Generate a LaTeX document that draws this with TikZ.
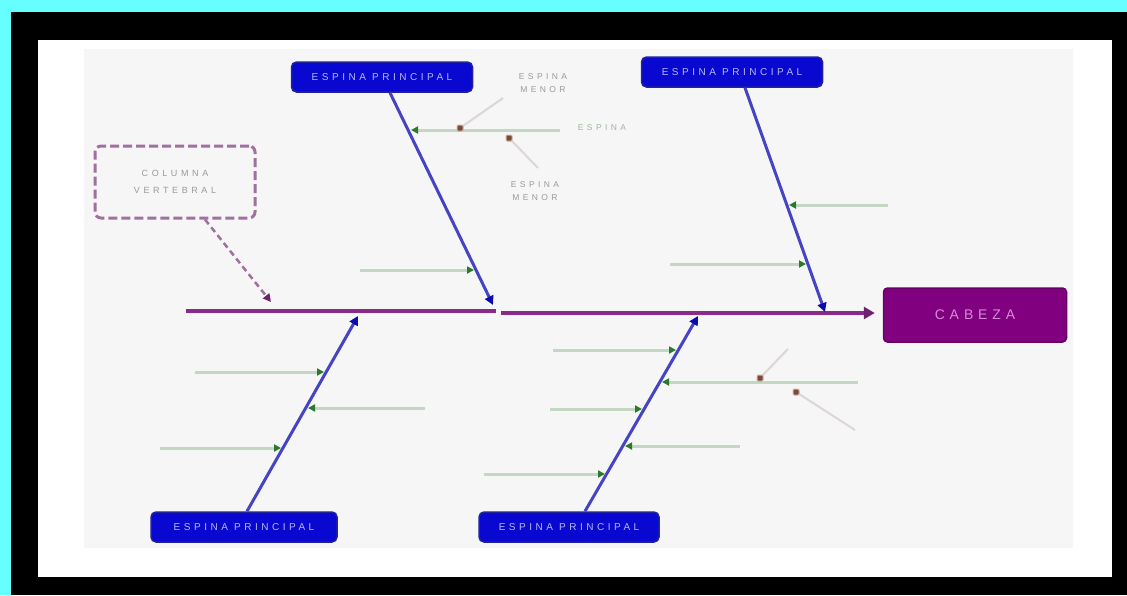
\documentclass[tikz,border=0pt]{standalone}
\usepackage{fontspec}
\setmainfont{Liberation Sans}
\newfontfamily\spaced[LetterSpace=35]{Liberation Sans}
\newfontfamily\spacedw[LetterSpace=40]{Liberation Sans}
\usetikzlibrary{arrows.meta}
\definecolor{cyanbg}{HTML}{66FFFF}
\definecolor{innerbg}{HTML}{F6F6F6}
\definecolor{boxblue}{HTML}{0808D0}
\definecolor{boxedge}{HTML}{22229A}
\definecolor{boxtext}{HTML}{B8B8F8}
\definecolor{bonecol}{HTML}{4444C4}
\definecolor{bonetip}{HTML}{0A0AB0}
\definecolor{spinecol}{HTML}{8A2A8A}
\definecolor{headcol}{HTML}{800080}
\definecolor{headtext}{HTML}{D88AD8}
\definecolor{minorcol}{HTML}{C4D6C4}
\definecolor{minortip}{HTML}{2A7A2A}
\definecolor{dotcol}{HTML}{7A4A32}
\definecolor{twigcol}{HTML}{DCD6D4}
\definecolor{labgray}{HTML}{9E9896}
\definecolor{labgreen}{HTML}{A0B4A0}
\definecolor{colborder}{HTML}{A070A0}
\tikzset{
  majorbox/.style={draw=boxedge, line width=1.5pt, fill=boxblue, rounded corners=5pt,
    minimum width=181pt, minimum height=30pt, inner sep=0pt, text=boxtext,
    font=\spaced\fontsize{10}{11}\selectfont},
  bone/.style={draw=bonecol, line width=3pt, -{Triangle[length=9pt,width=9pt,color=bonetip]}},
  spineline/.style={draw=spinecol, line width=4pt},
  minor/.style={draw=minorcol, line width=3pt, -{Triangle[length=7pt,width=7pt,color=minortip]}},
  twig/.style={draw=twigcol, line width=2pt},
  dotmark/.style={fill=dotcol, draw=dotcol!40!white, line width=1pt, minimum size=6pt, inner sep=0pt, rectangle, rounded corners=1pt},
  smalllab/.style={text=labgray, align=center, font=\spacedw\fontsize{8.5}{13}\selectfont, inner sep=1pt},
}
\begin{document}
\begin{tikzpicture}[x=1pt,y=-1pt]
\fill[cyanbg] (0,0) rectangle (1127,595);
\fill[black] (11,12) rectangle (1127,595);
\fill[white] (38,40) rectangle (1112,577);
\fill[innerbg] (84,49) rectangle (1073,548);
\useasboundingbox (0,0) rectangle (1127,595);

% head
\node[fill=headcol, draw=headcol!80!black, line width=1.5pt, rounded corners=4pt,
  minimum width=183pt, minimum height=54pt, text=headtext,
  font=\spaced\fontsize{14}{15}\selectfont] (head) at (975,315) {CABEZA};

% major boxes
\node[majorbox] (b1) at (382,77) {ESPINA PRINCIPAL};
\node[majorbox] (b2) at (732,72) {ESPINA PRINCIPAL};
\node[majorbox, minimum width=186pt] (b3) at (244,527) {ESPINA PRINCIPAL};
\node[majorbox, minimum width=180pt] (b4) at (569,527) {ESPINA PRINCIPAL};

% column box
\node[draw=colborder, dash pattern=on 9pt off 4pt, line width=3pt, rounded corners=6pt,
  minimum width=160pt, minimum height=72pt, text=labgray, align=center,
  font=\spacedw\fontsize{9}{17}\selectfont] (col) at (175,182) {COLUMNA\\VERTEBRAL};

% spine
\coordinate (sp0) at (186,311);
\coordinate (sp1) at (496,311);
\coordinate (sp2) at (501,313);
\draw[spineline] (sp0) -- (sp1);
\draw[spineline, shorten >=8pt, -{Triangle[length=11pt,width=12pt,color=spinecol!80!black]}] (sp2) -- (head.west |- sp2);

% column connector
\coordinate (cp) at (271,302);
\draw[draw=colborder, line width=2.5pt, dash pattern=on 6pt off 4pt,
  -{Triangle[length=8pt,width=8pt,color=spinecol!80!black]}] ([xshift=30pt]col.south) -- (cp);

% major bones
\coordinate (t1) at (493,305);
\coordinate (t2) at (825,312);
\coordinate (t3) at (358,316);
\coordinate (t4) at (698,316);
\draw[bone] ([xshift=8pt]b1.south) -- (t1);
\draw[bone] ([xshift=13pt]b2.south) -- (t2);
\draw[bone] ([xshift=3pt]b3.north) -- (t3);
\draw[bone] ([xshift=16pt]b4.north) -- (t4);

% minor bones, top left
\coordinate (m1s) at (560,130); \coordinate (m1e) at (411,130);
\coordinate (m2s) at (360,270); \coordinate (m2e) at (474,270);
\draw[minor] (m1s) -- (m1e);
\draw[minor] (m2s) -- (m2e);
% minor bones, top right
\coordinate (m3s) at (888,205); \coordinate (m3e) at (789,205);
\coordinate (m4s) at (670,264); \coordinate (m4e) at (806,264);
\draw[minor] (m3s) -- (m3e);
\draw[minor] (m4s) -- (m4e);
% minor bones, bottom left
\coordinate (m5s) at (195,372); \coordinate (m5e) at (324,372);
\coordinate (m6s) at (425,408); \coordinate (m6e) at (308,408);
\coordinate (m7s) at (160,448); \coordinate (m7e) at (281,448);
\draw[minor] (m5s) -- (m5e);
\draw[minor] (m6s) -- (m6e);
\draw[minor] (m7s) -- (m7e);
% minor bones, bottom right
\coordinate (m8s) at (553,350); \coordinate (m8e) at (676,350);
\coordinate (m9s) at (858,382); \coordinate (m9e) at (662,382);
\coordinate (m10s) at (550,409); \coordinate (m10e) at (642,409);
\coordinate (m11s) at (740,446); \coordinate (m11e) at (625,446);
\coordinate (m12s) at (484,474); \coordinate (m12e) at (605,474);
\draw[minor] (m8s) -- (m8e);
\draw[minor] (m9s) -- (m9e);
\draw[minor] (m10s) -- (m10e);
\draw[minor] (m11s) -- (m11e);
\draw[minor] (m12s) -- (m12e);

% twigs, top left
\coordinate (w1) at (503,98);
\coordinate (w2) at (538,168);
\draw[twig] (460,128) -- (w1);
\draw[twig] (509,138) -- (w2);
\node[dotmark] (d1) at (460,128) {};
\node[dotmark] (d2) at (509,138) {};
\node[smalllab] (l1) at (543,83) {ESPINA\\MENOR};
\node[smalllab] (l2) at (535,191) {ESPINA\\MENOR};
\node[smalllab, text=labgreen] (l3) at (602,128) {ESPINA};

% twigs, bottom right
\coordinate (w3) at (788,349);
\coordinate (w4) at (855,430);
\draw[twig] (760,378) -- (w3);
\draw[twig] (796,392) -- (w4);
\node[dotmark] (d3) at (760,378) {};
\node[dotmark] (d4) at (796,392) {};
\end{tikzpicture}
\end{document}
